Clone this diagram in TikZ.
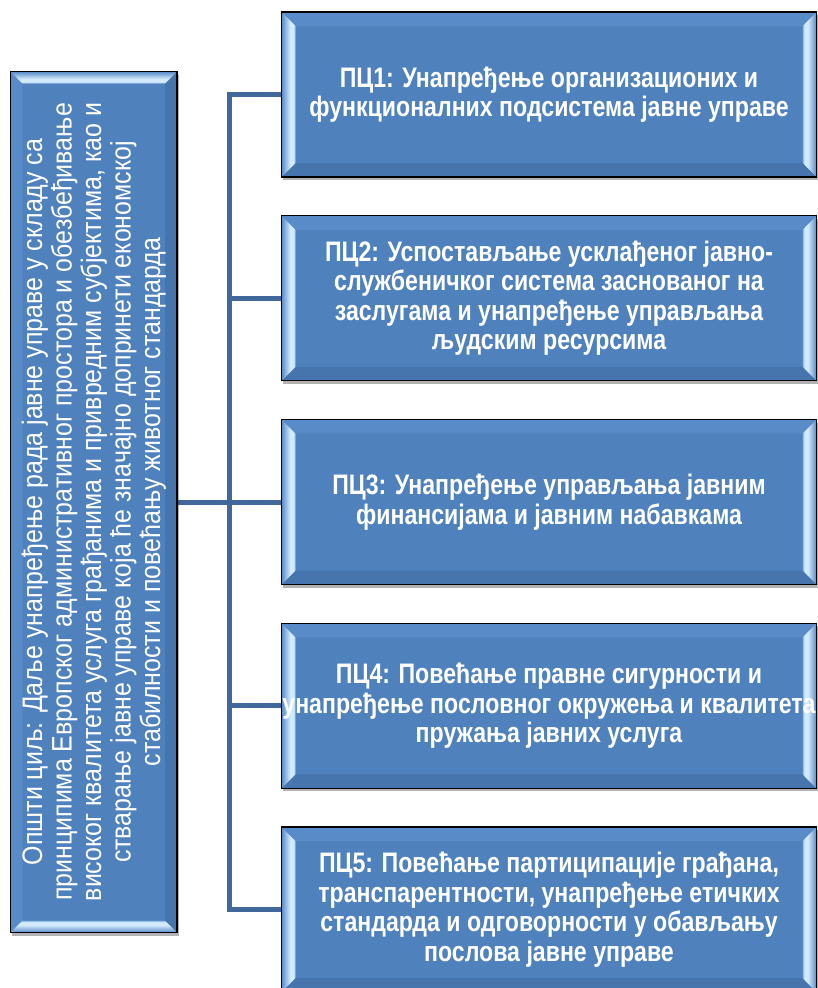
\documentclass[tikz,border=0pt]{standalone}
\usepackage{fontspec}
\setmainfont{Liberation Sans}[FakeStretch=0.82]
\newfontfamily\goalfont{Liberation Sans}[FakeStretch=0.885]
\usetikzlibrary{calc,shadows}
\definecolor{boxblue}{RGB}{79,129,189}
\definecolor{facetblue}{RGB}{86,138,200}
\definecolor{lightfacet}{RGB}{130,175,225}
\definecolor{hilite}{RGB}{210,234,252}
\definecolor{toplite}{RGB}{88,139,199}
\definecolor{botdark}{RGB}{70,116,172}
\definecolor{connblue}{RGB}{64,104,154}
\pgfdeclarehorizontalshading{lbev}{100bp}{color(0bp)=(facetblue); color(25bp)=(facetblue); color(56bp)=(hilite); color(68bp)=(hilite); color(75bp)=(lightfacet); color(100bp)=(lightfacet)}
\pgfdeclarehorizontalshading{rbev}{100bp}{color(0bp)=(lightfacet); color(25bp)=(lightfacet); color(32bp)=(hilite); color(44bp)=(hilite); color(75bp)=(facetblue); color(100bp)=(facetblue)}
\pgfdeclareverticalshading{tbev}{100bp}{color(0bp)=(lightfacet); color(25bp)=(lightfacet); color(32bp)=(hilite); color(44bp)=(hilite); color(75bp)=(facetblue); color(100bp)=(facetblue)}
\pgfdeclareverticalshading{bbev}{100bp}{color(0bp)=(facetblue); color(25bp)=(facetblue); color(56bp)=(hilite); color(68bp)=(hilite); color(75bp)=(lightfacet); color(100bp)=(lightfacet)}
\newcommand\bevcorners{%
  \path (path picture bounding box.north west) coordinate (bnw)
        (path picture bounding box.north east) coordinate (bne)
        (path picture bounding box.south west) coordinate (bsw)
        (path picture bounding box.south east) coordinate (bse);}
\newcommand\hbevel[1]{%
  \bevcorners
  \fill[toplite] (bnw) -- (bne) -- ($(bne)+(-#1,#1)$) -- ($(bnw)+(#1,#1)$) -- cycle;
  \fill[botdark] (bsw) -- (bse) -- ($(bse)+(-#1,-#1)$) -- ($(bsw)+(#1,-#1)$) -- cycle;
  \shade[shading=lbev] (bnw) -- ($(bnw)+(#1,#1)$) -- ($(bsw)+(#1,-#1)$) -- (bsw) -- cycle;
  \shade[shading=rbev] (bne) -- ($(bne)+(-#1,#1)$) -- ($(bse)+(-#1,-#1)$) -- (bse) -- cycle;}
\newcommand\vbevel[1]{%
  \bevcorners
  \fill[toplite] (bnw) -- ($(bnw)+(#1,#1)$) -- ($(bsw)+(#1,-#1)$) -- (bsw) -- cycle;
  \fill[botdark] (bne) -- ($(bne)+(-#1,#1)$) -- ($(bse)+(-#1,-#1)$) -- (bse) -- cycle;
  \shade[shading=tbev] (bnw) -- (bne) -- ($(bne)+(-#1,#1)$) -- ($(bnw)+(#1,#1)$) -- cycle;
  \shade[shading=bbev] (bsw) -- (bse) -- ($(bse)+(-#1,-#1)$) -- ($(bsw)+(#1,-#1)$) -- cycle;}
\begin{document}
\begin{tikzpicture}[x=1pt,y=-1pt,
  boxbase/.style={draw=black, line width=1.4pt, fill=boxblue, inner sep=0pt,
    drop shadow={shadow xshift=1.5pt, shadow yshift=-3pt, opacity=0.3, fill=black}},
  pcbox/.style={boxbase, minimum width=535pt, minimum height=165pt,
    path picture={\hbevel{14}}},
  goalbox/.style={boxbase, minimum width=166.5pt, minimum height=861pt,
    path picture={\vbevel{12}}},
  pctext/.style={text=white, align=center, inner sep=0pt,
    font=\fontsize{28.2}{29.5}\selectfont\bfseries},
  goaltext/.style={text=white, align=center, inner sep=0pt, rotate=90,
    font=\goalfont\fontsize{28.2}{29.5}\selectfont},
  conn/.style={draw=connblue, line width=5pt}]
\useasboundingbox (0,0) rectangle (817,988);
\coordinate (trunk) at (229,0);
\path (549,94.5) coordinate (c1) (549,298.25) coordinate (c2) (549,502) coordinate (c3)
      (549,705.75) coordinate (c4) (549,909.5) coordinate (c5);
\coordinate (pc1w) at ($(c1)+(-267.5,0)$);
\coordinate (pc2w) at ($(c2)+(-267.5,0)$);
\coordinate (pc3w) at ($(c3)+(-267.5,0)$);
\coordinate (pc4w) at ($(c4)+(-267.5,0)$);
\coordinate (pc5w) at ($(c5)+(-267.5,0)$);
\coordinate (goale) at (177,502);
\draw[conn] (pc1w) -- (pc1w -| trunk) -- (pc5w -| trunk) -- (pc5w);
\draw[conn] (pc2w -| trunk) -- (pc2w);
\draw[conn] (pc4w -| trunk) -- (pc4w);
\draw[conn] (goale) -- (pc3w);
\node[goalbox] (goal) at (93.75,502) {};
\node[goaltext] (goalt) at (goal.center) {Општи циљ: Даље унапређење рада јавне управе у складу са\\принципима Европског административног простора и обезбеђивање\\високог квалитета услуга грађанима и привредним субјектима, као и\\стварање јавне управе која ће значајно допринети економској\\стабилности и повећању животног стандарда};
\node[pcbox] (pc1) at (c1) {};
\node[pctext] (t1) at (pc1.center) {ПЦ1: Унапређење организационих и\\функционалних подсистема јавне управе};
\node[pcbox] (pc2) at (c2) {};
\node[pctext] (t2) at (pc2.center) {ПЦ2: Успостављање усклађеног јавно-\\службеничког система заснованог на\\заслугама и унапређење управљања\\људским ресурсима};
\node[pcbox] (pc3) at (c3) {};
\node[pctext] (t3) at (pc3.center) {ПЦ3: Унапређење управљања јавним\\финансијама и јавним набавкама};
\node[pcbox] (pc4) at (c4) {};
\node[pctext] (t4) at (pc4.center) {ПЦ4: Повећање правне сигурности и\\унапређење пословног окружења и квалитета\\пружања јавних услуга};
\node[pcbox] (pc5) at (c5) {};
\node[pctext] (t5) at (pc5.center) {ПЦ5: Повећање партиципације грађана,\\транспарентности, унапређење етичких\\стандарда и одговорности у обављању\\послова јавне управе};
\end{tikzpicture}
\end{document}
